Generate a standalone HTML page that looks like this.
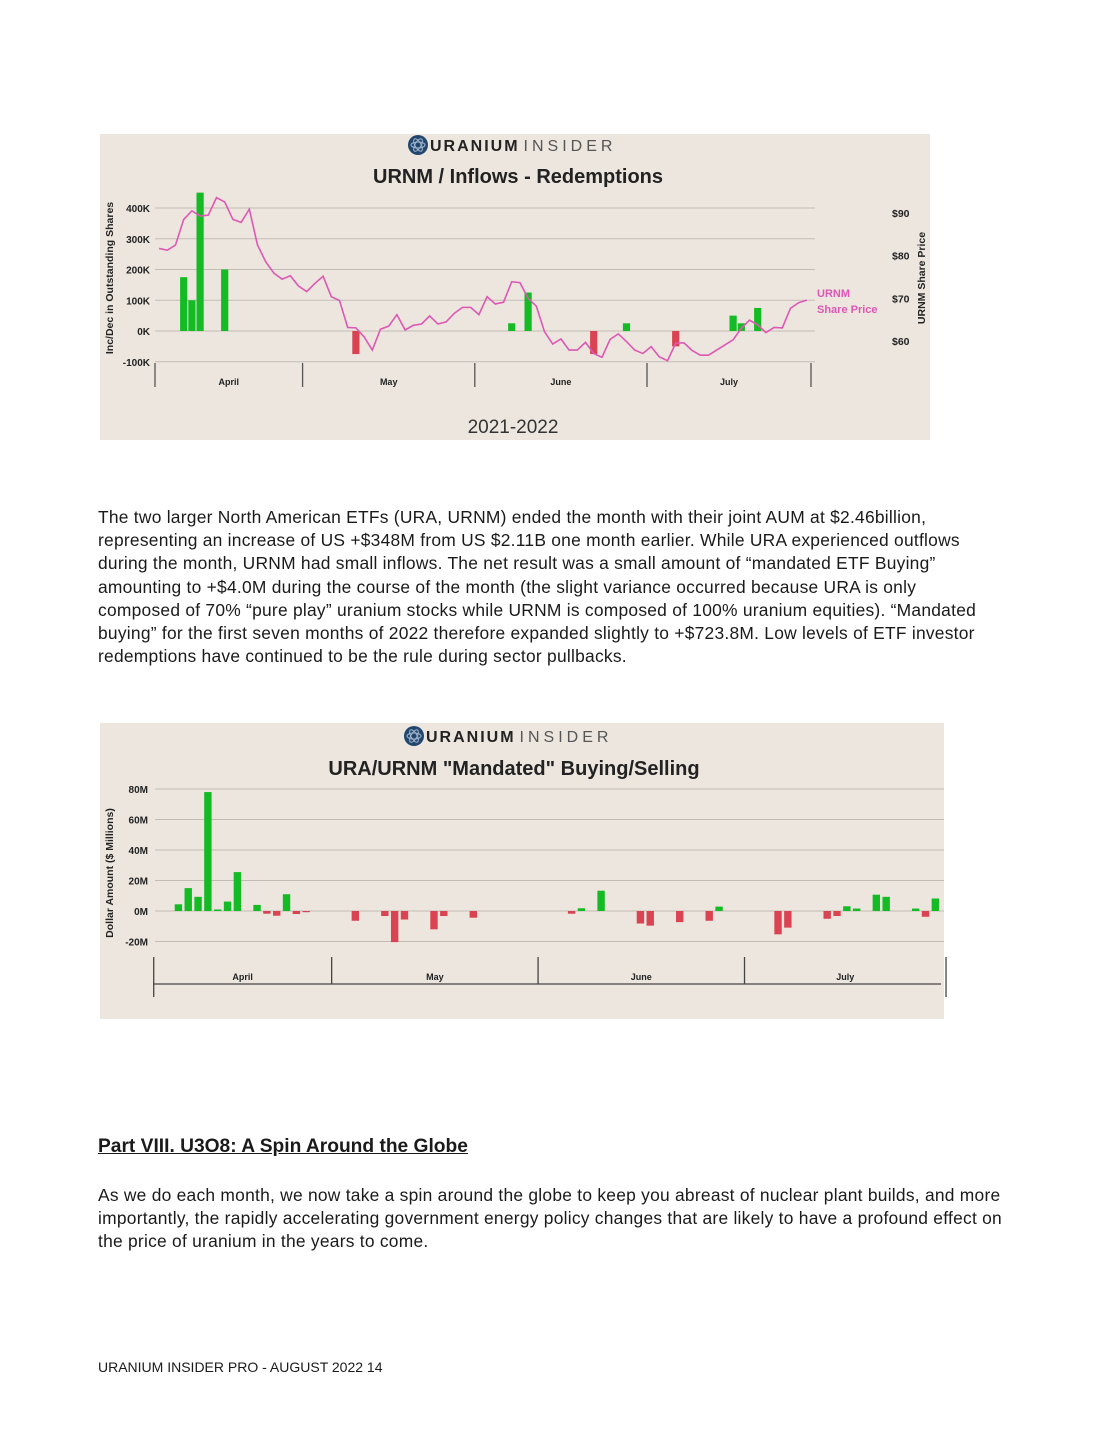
<!DOCTYPE html>
<html><head><meta charset="utf-8">
<style>
body{margin:0;background:#fff;width:1112px;height:1440px;position:relative;font-family:"Liberation Sans",sans-serif;overflow:hidden}
.p{position:absolute;left:98px;font-size:17.4px;letter-spacing:0.25px;line-height:23.2px;color:#1a1a1a;white-space:nowrap}
svg text{font-family:"Liberation Sans",sans-serif}
</style></head><body>
<svg id="c1" style="position:absolute;left:0;top:0" width="1112" height="460"></svg>
<svg id="c2" style="position:absolute;left:0;top:700" width="1112" height="340"></svg>

<div class="p" style="top:506px">The two larger North American ETFs (URA, URNM) ended the month with their joint AUM at $2.46billion,<br>representing an increase of US +$348M from US $2.11B one month earlier. While URA experienced outflows<br>during the month, URNM had small inflows. The net result was a small amount of “mandated ETF Buying”<br>amounting to +$4.0M during the course of the month (the slight variance occurred because URA is only<br>composed of 70% “pure play” uranium stocks while URNM is composed of 100% uranium equities). “Mandated<br>buying” for the first seven months of 2022 therefore expanded slightly to +$723.8M. Low levels of ETF investor<br>redemptions have continued to be the rule during sector pullbacks.</div>

<div class="p" style="top:1135px;font-weight:bold;font-size:19.2px;letter-spacing:0;text-decoration:underline">Part VIII. U3O8: A Spin Around the Globe<span style="display:inline-block;width:45px"></span></div>

<div class="p" style="top:1184px">As we do each month, we now take a spin around the globe to keep you abreast of nuclear plant builds, and more<br>importantly, the rapidly accelerating government energy policy changes that are likely to have a profound effect on<br>the price of uranium in the years to come.</div>

<div class="p" style="top:1356px;font-size:14px;letter-spacing:0">URANIUM INSIDER PRO - AUGUST 2022 14</div>

<script>
// ---------- Chart 1 data ----------
const flowDays = [3,4,5,8,24,43,45,53,57,63,70,71,73];
const flowValues = [175,100,450,200,-75,25,125,-75,25,-50,50,25,75];
const priceSeries = [81.7,81.3,82.5,88.5,90.5,89.3,89.5,93.6,92.6,88.5,87.8,90.9,82.5,78.6,75.9,74.5,75.3,72.9,71.6,73.5,75.2,70.4,69.5,63.2,63.1,61.0,57.9,62.8,63.5,66.2,62.6,63.7,64.0,65.9,64.0,64.5,66.5,67.9,67.9,66.2,70.4,68.7,69.1,73.9,73.7,70.0,68.2,62.2,59.3,60.5,57.9,57.9,59.7,57.1,56.2,60.4,61.7,59.9,57.9,57.1,58.7,56.3,55.4,59.5,59.6,57.8,56.7,56.7,57.9,59.1,60.3,63.0,64.9,63.8,62.0,63.2,63.1,67.7,69.0,69.6];
const leftTicks = [400,300,200,100,0,-100];
const leftTickLabels = ["400K","300K","200K","100K","0K","-100K"];
const rightTicks = [90,80,70,60];
const rightTickLabels = ["$90","$80","$70","$60"];
const months1 = ["April","May","June","July"];
const monthBounds1 = [0,18,39,60,80];

// ---------- Chart 2 data ----------
const buyDays = [0,1,2,3,4,5,6,8,9,10,11,12,13,18,21,22,23,26,27,30,40,41,43,47,48,51,54,55,61,62,66,67,68,69,71,72,75,76,77];
const buyValues = [4.4,15,9.3,78,1,6.2,25.5,4,-1.8,-3.1,11,-2,-0.4,-6.4,-3.3,-20.4,-5.6,-12,-3.3,-4.4,-1.8,1.8,13.3,-8.2,-9.6,-7.3,-6.4,2.9,-15.3,-10.9,-5.1,-3.3,3.1,1.6,10.7,9.3,1.6,-3.8,8.2];
const ticks2 = [80,60,40,20,0,-20];
const tickLabels2 = ["80M","60M","40M","20M","0M","-20M"];
const months2 = ["April","May","June","July"];
const monthBounds2 = [-2.5,15.6,36.6,57.6,78.1];

const NS="http://www.w3.org/2000/svg";
function mk(svg,tag,attrs,txt){const e=document.createElementNS(NS,tag);for(const k in attrs)e.setAttribute(k,attrs[k]);if(txt!==undefined)e.textContent=txt;svg.appendChild(e);return e;}
const GREEN="#14bb24",RED="#da4452",PINK="#de57b4",GRID="#c3bcb5",BG="#ede6df";

function header(svg,cx,y,title,ty){
  const g=mk(svg,'g',{});
  
  
  mk(g,'circle',{cx:cx-100,cy:y-5,r:10,fill:"#23466e"});
  mk(g,'ellipse',{cx:cx-100,cy:y-5,rx:7,ry:3,fill:"none",stroke:"#9fb5cc","stroke-width":1});
  mk(g,'ellipse',{cx:cx-100,cy:y-5,rx:7,ry:3,fill:"none",stroke:"#9fb5cc","stroke-width":1,transform:`rotate(60 ${cx-100} ${y-5})`});
  mk(g,'ellipse',{cx:cx-100,cy:y-5,rx:7,ry:3,fill:"none",stroke:"#9fb5cc","stroke-width":1,transform:`rotate(-60 ${cx-100} ${y-5})`});
  const t=mk(g,'text',{x:cx-88,y:y+1,"font-size":16,fill:"#222","letter-spacing":2});
  const a=document.createElementNS(NS,'tspan');a.setAttribute('font-weight','bold');a.textContent="URANIUM";t.appendChild(a);
  const b=document.createElementNS(NS,'tspan');b.setAttribute('fill','#555');b.setAttribute('letter-spacing','4');b.setAttribute('dx','4');b.textContent="INSIDER";t.appendChild(b);
  const tt=mk(svg,'text',{x:cx,y:ty,"text-anchor":"middle","font-size":20,"font-weight":"bold",fill:"#222"},title);
  
  
}

// ===== Chart 1 =====
(function(){
  const s=document.getElementById('c1');
  const bg=mk(s,'rect',{x:100,y:134,width:830,height:306,fill:BG});
  
  
  header(s,518,150,"URNM / Inflows - Redemptions",183);
  const x0=155,slot=8.2;
  const X=i=>x0+(i+0.5)*slot;
  const Y=v=>331-v*0.3075;
  const P=p=>213+(90-p)*4.27;
  leftTicks.forEach((v,k)=>{
    const l=mk(s,'line',{x1:155,x2:815,y1:Y(v),y2:Y(v),stroke:GRID,"stroke-width":1});
    
    
    const t=mk(s,'text',{x:150,y:Y(v)+4,"text-anchor":"end","font-size":10,"font-weight":"bold",fill:"#222"},leftTickLabels[k]);
    
    
  });
  rightTicks.forEach((v,k)=>{
    const t=mk(s,'text',{x:892,y:P(v)+4,"font-size":10.5,"font-weight":"bold",fill:"#222"},rightTickLabels[k]);
    
    
  });
  const yl=mk(s,'text',{x:0,y:0,transform:"translate(113,278) rotate(-90)","text-anchor":"middle","font-size":10.5,"font-weight":"bold",fill:"#222"},"Inc/Dec in Outstanding Shares");
  
  
  const yr=mk(s,'text',{x:0,y:0,transform:"translate(925,278) rotate(-90)","text-anchor":"middle","font-size":10.5,"font-weight":"bold",fill:"#222"},"URNM Share Price");
  
  
  flowDays.forEach((d,k)=>{
    const v=flowValues[k];
    const r=mk(s,'rect',{x:X(d)-3.6,y:Math.min(Y(v),Y(0)),width:7.2,height:Math.abs(Y(v)-Y(0)),fill:v>=0?GREEN:RED});
    
    
  });
  const pl=mk(s,'polyline',{points:priceSeries.map((p,i)=>X(i)+","+P(p)).join(" "),fill:"none",stroke:PINK,"stroke-width":1.6});
  
  
  const lg=mk(s,'text',{x:817,y:297,"font-size":11,"font-weight":"bold",fill:PINK},"URNM");
  
  
  mk(s,'text',{x:817,y:313,"font-size":11,"font-weight":"bold",fill:PINK},"Share Price");
  monthBounds1.forEach(b=>{
    const l=mk(s,'line',{x1:x0+b*slot,x2:x0+b*slot,y1:363,y2:387,stroke:"#555","stroke-width":1.3});
    
    
  });
  months1.forEach((m,k)=>{
    const cx=x0+(monthBounds1[k]+monthBounds1[k+1])/2*slot;
    const t=mk(s,'text',{x:cx,y:385,"text-anchor":"middle","font-size":9,"font-weight":"bold",fill:"#222"},m);
    
    
  });
  const yr2=mk(s,'text',{x:513,y:433,"text-anchor":"middle","font-size":19,fill:"#333"},"2021-2022");
  
  
})();

// ===== Chart 2 =====
(function(){
  const s=document.getElementById('c2');
  const bg=mk(s,'rect',{x:100,y:23,width:844,height:296,fill:BG});
  
  
  header(s,514,41,'URA/URNM "Mandated" Buying/Selling',75);
  const x0=178.3,slot=9.83;
  const X=i=>x0+i*slot;
  const Y=v=>211-v*1.525;
  ticks2.forEach((v,k)=>{
    const l=mk(s,'line',{x1:155,x2:944,y1:Y(v),y2:Y(v),stroke:GRID,"stroke-width":1});
    
    
    const t=mk(s,'text',{x:148,y:Y(v)+4,"text-anchor":"end","font-size":10,"font-weight":"bold",fill:"#222"},tickLabels2[k]);
    
    
  });
  const yl=mk(s,'text',{x:0,y:0,transform:"translate(113,173) rotate(-90)","text-anchor":"middle","font-size":10.5,"font-weight":"bold",fill:"#222"},"Dollar Amount ($ Millions)");
  
  
  buyDays.forEach((d,k)=>{
    const v=buyValues[k];
    const h=Math.max(1.2,Math.abs(Y(v)-Y(0)));
    const r=mk(s,'rect',{x:X(d)-3.6,y:v>=0?Y(0)-h:Y(0),width:7.4,height:h,fill:v>=0?GREEN:RED});
    
    
  });
  const ax=mk(s,'line',{x1:153,x2:941,y1:284,y2:284,stroke:"#444","stroke-width":1.3});
  
  
  monthBounds2.forEach((b,k)=>{
    const x=X(b);
    const l=mk(s,'line',{x1:x,x2:x,y1:257,y2:(k==0||k==4)?297:284,stroke:"#444","stroke-width":1.3});
    
    
  });
  months2.forEach((m,k)=>{
    const cx=X((monthBounds2[k]+monthBounds2[k+1])/2);
    const t=mk(s,'text',{x:cx,y:280,"text-anchor":"middle","font-size":9,"font-weight":"bold",fill:"#222"},m);
    
    
  });
})();
</script>
</body></html>
